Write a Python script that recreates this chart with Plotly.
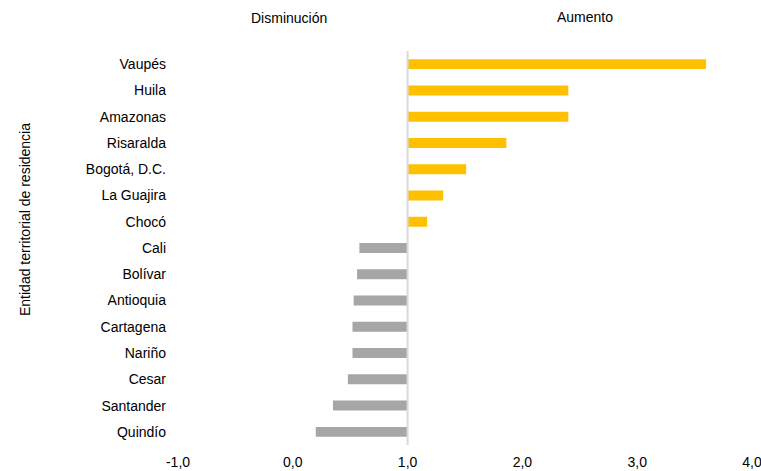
import plotly.graph_objects as go

# Razón de cambio por entidad territorial de residencia (línea de referencia en 1,0)
entidades = ["Vaupés", "Huila", "Amazonas", "Risaralda", "Bogotá, D.C.", "La Guajira",
             "Chocó", "Cali", "Bolívar", "Antioquia", "Cartagena", "Nariño", "Cesar",
             "Santander", "Quindío"]
valores = [3.60, 2.40, 2.40, 1.86, 1.51, 1.31, 1.17, 0.58, 0.56, 0.53, 0.52, 0.52,
           0.48, 0.35, 0.20]
referencia = 1.0
tick_vals = [-1, 0, 1, 2, 3, 4]
tick_text = ["-1,0", "0,0", "1,0", "2,0", "3,0", "4,0"]

AUMENTO = "#FFC000"
DISMINUCION = "#A6A6A6"
FONT = "Liberation Sans, Arial, sans-serif"

colores = [AUMENTO if v >= referencia else DISMINUCION for v in valores]

fig = go.Figure(go.Bar(
    y=entidades,
    x=[v - referencia for v in valores],
    base=referencia,
    orientation="h",
    marker=dict(color=colores, line=dict(width=0)),
    width=0.38,
    hoverinfo="skip",
))

fig.update_layout(
    width=761, height=471,
    margin=dict(l=178, r=9, t=51, b=26),
    paper_bgcolor="white", plot_bgcolor="white",
    font=dict(family=FONT, size=14, color="#000000"),
    showlegend=False,
    xaxis=dict(range=[-1, 4], tickvals=tick_vals, ticktext=tick_text,
               showgrid=False, zeroline=False, showline=False, automargin=False,
               ticks="", tickfont=dict(size=14), ticklabelstandoff=7,
               ticklabeloverflow="allow"),
    yaxis=dict(categoryorder="array", categoryarray=entidades[::-1],
               showgrid=False, zeroline=False, showline=False, automargin=False,
               ticks="", tickfont=dict(size=14), ticklabelstandoff=11),
    shapes=[dict(type="line", xref="x", yref="paper", x0=referencia, x1=referencia,
                 y0=0, y1=1.0, line=dict(color="#D9D9D9", width=2))],
    annotations=[
        dict(text="Disminución", x=289, y=18, xref="paper", yref="paper",
             showarrow=False, font=dict(size=14)),
        dict(text="Aumento", x=585, y=17, xref="paper", yref="paper",
             showarrow=False, font=dict(size=14)),
        dict(text="Entidad territorial de residencia", x=25, y=220, xref="paper",
             yref="paper", showarrow=False, textangle=-90, font=dict(size=14)),
    ],
)

# Posiciones de las anotaciones en píxeles convertidas a coordenadas de papel
pw = 761 - 178 - 9
ph = 471 - 51 - 26
for a in fig.layout.annotations:
    a.x = (a.x - 178) / pw
    a.y = (471 - 26 - a.y) / ph
    a.xanchor = "center"
    a.yanchor = "middle"

fig.write_html("out.html")
